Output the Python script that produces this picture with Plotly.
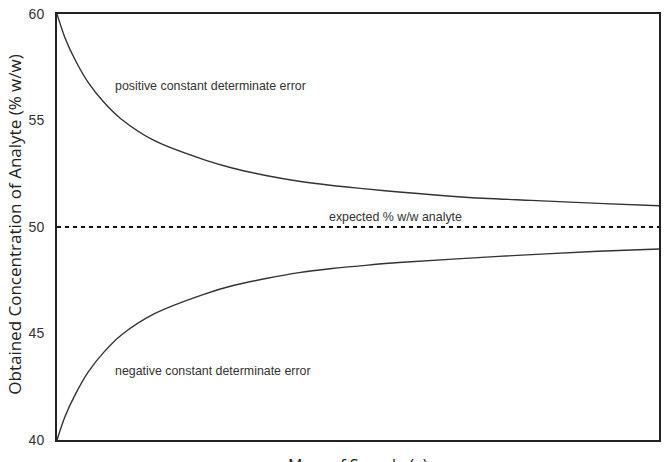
import plotly.graph_objects as go

# Mass of sample (arbitrary units, axis has no tick labels)
mass_pos = [0, 0.13, 0.30, 0.52, 0.79, 1.07, 1.62, 2.45, 2.91, 3.47, 4.02, 4.57, 5.13, 5.68, 6.78, 7.88, 8.99, 10.0]
conc_pos = [60.0, 58.9, 57.85, 56.78, 55.82, 55.06, 54.05, 53.15, 52.77, 52.42, 52.15, 51.95, 51.79, 51.64, 51.40, 51.25, 51.11, 51.00]

mass_neg = [0, 0.13, 0.30, 0.52, 0.79, 1.07, 1.62, 2.45, 2.91, 3.47, 4.02, 4.57, 5.13, 5.68, 7.335, 8.99, 10.0]
conc_neg = [40.0, 41.08, 42.12, 43.2, 44.16, 44.93, 45.93, 46.85, 47.24, 47.58, 47.86, 48.05, 48.2, 48.33, 48.62, 48.86, 48.97]

expected_mass = [0, 10.0]
expected_conc = [50, 50]

y_ticks = [40, 45, 50, 55, 60]

labels = [
    ("positive constant determinate error", 0.93, 56.64),
    ("expected % w/w analyte", 4.49, 50.47),
    ("negative constant determinate error", 0.93, 43.22),
]

fig = go.Figure()
fig.add_trace(go.Scatter(x=mass_pos, y=conc_pos, mode="lines", line=dict(color="#333333", width=1.4, shape="spline", smoothing=0.8), showlegend=False))
fig.add_trace(go.Scatter(x=mass_neg, y=conc_neg, mode="lines", line=dict(color="#333333", width=1.4, shape="spline", smoothing=0.8), showlegend=False))
fig.add_trace(go.Scatter(x=expected_mass, y=expected_conc, mode="lines", line=dict(color="#111111", width=2, dash="4px,4px"), showlegend=False))

for text, x, y in labels:
    fig.add_annotation(x=x, y=y, text=text, showarrow=False, xanchor="left", yanchor="middle",
                       font=dict(family="Liberation Sans, Arial", size=12.4, color="#333333"))

fig.add_annotation(xref="paper", yref="paper", x=0.5, y=-0.028, yanchor="top", xanchor="center",
                   text="Mass of Sample (g)", showarrow=False,
                   font=dict(family="Open Sans", size=16, color="#222222"))
fig.add_annotation(xref="paper", yref="paper", x=-0.07, y=0.505, textangle=-90, xanchor="center", yanchor="middle",
                   text="Obtained Concentration of Analyte (% w/w)", showarrow=False,
                   font=dict(family="Open Sans", size=17, color="#222222"))

fig.update_layout(
    width=667, height=462,
    margin=dict(l=57, r=6, t=12, b=22),
    plot_bgcolor="white", paper_bgcolor="white",
    xaxis=dict(range=[0, 10.0], showticklabels=False, ticks="", showgrid=False, zeroline=False,
               showline=True, mirror=True, linecolor="#222222", linewidth=2),
    yaxis=dict(range=[40, 60], tickvals=y_ticks, ticks="", showgrid=False, zeroline=False,
               showline=True, mirror=True, linecolor="#222222", linewidth=2,
               ticklabelstandoff=8,
               tickfont=dict(family="Liberation Sans, Arial", size=14, color="#333333")),
)

fig.write_html("out.html")
